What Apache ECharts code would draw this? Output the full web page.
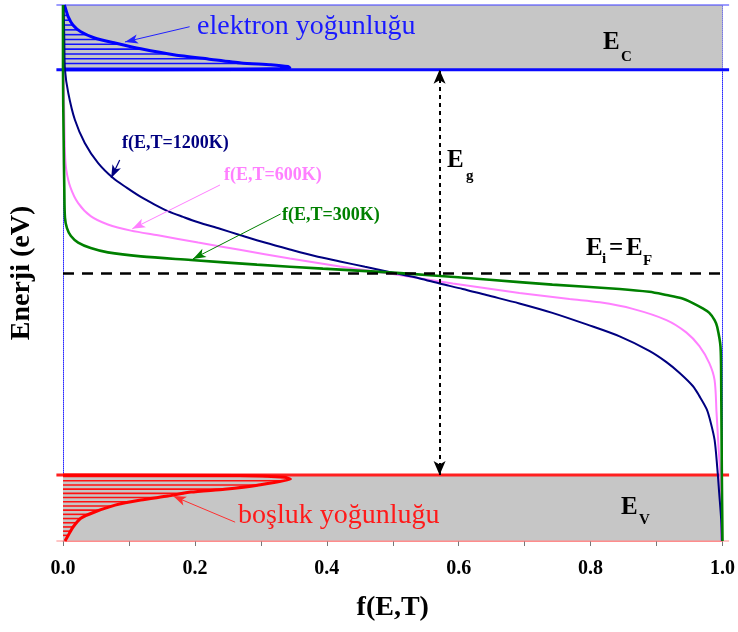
<!DOCTYPE html>
<html><head><meta charset="utf-8">
<script src="https://cdn.jsdelivr.net/npm/echarts@6/dist/echarts.min.js"></script>
<style>html,body{margin:0;padding:0;background:#fff}#c{width:738px;height:632px}</style>
</head><body><div id="c"></div>
<script>
// ---- data: [f(E,T), Energy (eV)] ----
const xTickValues = [0.0, 0.2, 0.4, 0.6, 0.8, 1.0];
const energyMin = -0.74, energyMax = 0.74;
const Ec = 0.561, Ev = -0.558, EF = 0.0, EgX = 0.571;

const fermi1200 = [[0.001,0.740],[0.002,0.644],[0.003,0.561],[0.008,0.497],[0.018,0.423],[0.033,0.359],[0.053,0.304],[0.076,0.262],[0.097,0.235],[0.118,0.210],[0.139,0.189],[0.159,0.171],[0.182,0.155],[0.205,0.140],[0.238,0.122],[0.268,0.105],[0.306,0.084],[0.344,0.065],[0.382,0.047],[0.420,0.032],[0.458,0.017],[0.500,0.001],[0.541,-0.015],[0.571,-0.029],[0.606,-0.044],[0.642,-0.061],[0.692,-0.084],[0.742,-0.110],[0.794,-0.142],[0.844,-0.175],[0.889,-0.215],[0.915,-0.246],[0.935,-0.276],[0.955,-0.312],[0.965,-0.340],[0.976,-0.376],[0.982,-0.412],[0.988,-0.461],[0.992,-0.536],[0.995,-0.608],[0.998,-0.682],[0.999,-0.740]];
const fermi600 = [[0.000,0.740],[0.001,0.561],[0.002,0.423],[0.003,0.331],[0.005,0.285],[0.011,0.238],[0.023,0.193],[0.042,0.157],[0.068,0.134],[0.103,0.117],[0.144,0.104],[0.205,0.084],[0.268,0.064],[0.344,0.040],[0.420,0.018],[0.500,-0.003],[0.591,-0.029],[0.692,-0.055],[0.768,-0.072],[0.814,-0.081],[0.864,-0.099],[0.915,-0.130],[0.945,-0.164],[0.965,-0.202],[0.980,-0.249],[0.988,-0.296],[0.991,-0.387],[0.994,-0.481],[0.997,-0.572],[0.998,-0.740]];
const fermi300 = [[0.000,0.740],[0.000,0.561],[0.001,0.367],[0.002,0.229],[0.003,0.152],[0.006,0.124],[0.012,0.102],[0.023,0.084],[0.042,0.069],[0.068,0.057],[0.118,0.046],[0.194,0.036],[0.294,0.023],[0.394,0.012],[0.500,0.001],[0.556,-0.006],[0.642,-0.018],[0.742,-0.032],[0.844,-0.044],[0.889,-0.052],[0.915,-0.061],[0.938,-0.070],[0.955,-0.083],[0.970,-0.098],[0.980,-0.110],[0.988,-0.130],[0.992,-0.149],[0.997,-0.204],[0.998,-0.296],[0.999,-0.558],[1.000,-0.740]];
const electronDensity = [[0.002,0.740],[0.003,0.735],[0.008,0.707],[0.015,0.685],[0.027,0.666],[0.048,0.649],[0.079,0.635],[0.118,0.619],[0.170,0.602],[0.220,0.591],[0.270,0.580],[0.315,0.575],[0.341,0.570],[0.344,0.566],[0.329,0.564],[0.268,0.562],[0.000,0.561]];
const holeDensity = [[0.000,-0.558],[0.268,-0.559],[0.336,-0.564],[0.345,-0.569],[0.295,-0.586],[0.245,-0.597],[0.194,-0.605],[0.159,-0.616],[0.118,-0.627],[0.079,-0.641],[0.048,-0.660],[0.027,-0.677],[0.015,-0.702],[0.008,-0.724],[0.003,-0.740]];

// annotation arrows [from, to] in data coords
const arrow1200 = [[0.086,0.312],[0.073,0.262]];
const arrow600 = [[0.238,0.243],[0.105,0.122]];
const arrow300 = [[0.330,0.163],[0.197,0.039]];
const arrowElectron = [[0.192,0.680],[0.094,0.638]];
const arrowHole = [[0.261,-0.688],[0.167,-0.616]];

// ---- helpers ----
function xAt(curve, E){
  let best = null;
  for (let i=0;i<curve.length-1;i++){
    const a=curve[i], b=curve[i+1];
    if ((a[1]-E)*(b[1]-E) <= 0 && a[1]!==b[1]){
      const t=(E-a[1])/(b[1]-a[1]);
      const x=a[0]+t*(b[0]-a[0]);
      if (best===null || x>best) best=x;
    }
  }
  return best;
}
function hatch(curve, start, end, step){
  const out=[];
  const dir = end>start?1:-1;
  for (let E=start; dir>0?E<=end:E>=end; E+=dir*step){
    const x=xAt(curve,E);
    if (x!==null && x>0.002) out.push([x,E]);
  }
  return out;
}
const electronHatch = hatch(electronDensity, Ec+0.004, 0.73, 0.0133);
const holeHatch = hatch(holeDensity, Ev-0.004, -0.73, 0.0116);

const FF = 'Liberation Serif';
function arrowLine(pair){ return [{coord:pair[0]},{coord:pair[1]}]; }

const chart = echarts.init(document.getElementById('c'));
const hatchRender = (color)=> (params, api)=>{
  const p0 = api.coord([0, api.value(1)]);
  const p1 = api.coord([api.value(0), api.value(1)]);
  return {type:'line', shape:{x1:p0[0],y1:p0[1],x2:p1[0],y2:p1[1]}, style:{stroke:color, lineWidth:1.6}};
};
const txt = (x,y,text,font,fill)=>({type:'text', z:10, silent:true, style:{x, y, text, font, fill, align:'left', verticalAlign:'middle'}});

const option = {
  animation:false,
  backgroundColor:'#fff',
  grid:{left:63, right:15, top:5, bottom:91, containLabel:false},
  xAxis:{type:'value', min:0, max:1, interval:0.2,
    axisLine:{show:true, onZero:false, lineStyle:{color:'#ff8c8c', width:1}},
    axisTick:{show:true, length:5, lineStyle:{color:'#777'}},
    minorTick:{show:true, splitNumber:2, length:5, lineStyle:{color:'#777'}},
    splitLine:{show:false},
    axisLabel:{margin:18, formatter:v=>v.toFixed(1), fontFamily:FF, fontWeight:'bold', fontSize:20, color:'#000'},
    name:'f(E,T)', nameLocation:'middle', nameGap:53,
    nameTextStyle:{fontFamily:FF, fontWeight:'bold', fontSize:28, color:'#000'}
  },
  yAxis:[
    {type:'value', min:energyMin, max:energyMax, position:'left',
     axisLine:{show:true, onZero:false, lineStyle:{color:'#2a2aff', type:'dotted', width:1}},
     axisTick:{show:false}, axisLabel:{show:false}, splitLine:{show:false},
     name:'Enerji (eV)', nameLocation:'middle', nameRotate:90, nameGap:27,
     nameTextStyle:{fontFamily:FF, fontWeight:'bold', fontSize:28, color:'#000', padding:[0,0,0,0]}},
    {type:'value', min:energyMin, max:energyMax, position:'right',
     axisLine:{show:true, onZero:false, lineStyle:{color:'#2a2aff', type:'dotted', width:1}},
     axisTick:{show:false}, axisLabel:{show:false}, splitLine:{show:false}}
  ],
  series:[
    {type:'custom', z:1, silent:true,
     data:[[0,Ec,1,energyMax,0],[0,energyMin,1,Ev,1]],
     encode:{x:[0,2], y:[1,3]},
     renderItem:(params, api)=>{
       const p0=api.coord([api.value(0),api.value(3)]);
       const p1=api.coord([api.value(2),api.value(1)]);
       const isCond = api.value(4)===0;
       const l0=api.coord([-0.01, api.value(3)]), r0=api.coord([1.01, api.value(3)]);
       const l1=api.coord([-0.01, api.value(1)]), r1=api.coord([1.01, api.value(1)]);
       return {type:'group', children:[
         {type:'rect', shape:{x:p0[0],y:p0[1],width:p1[0]-p0[0],height:p1[1]-p0[1]}, style:{fill:'#c6c6c6'}},
         {type:'line', shape:{x1:l0[0],y1:l0[1],x2:r0[0],y2:r0[1]}, style:{stroke:isCond?'#3b3bff':'#ff2020', lineWidth:isCond?1.2:3}},
         {type:'line', shape:{x1:l1[0],y1:l1[1],x2:r1[0],y2:r1[1]}, style:{stroke:isCond?'#0a0aff':'#ff8c8c', lineWidth:isCond?3:1}}
       ]};
     }},
    {type:'custom', z:2, silent:true, data:electronHatch, encode:{x:0,y:1}, renderItem:hatchRender('#1010ff')},
    {type:'custom', z:2, silent:true, data:holeHatch, encode:{x:0,y:1}, renderItem:hatchRender('#ff1010')},
    {type:'line', z:3, data:electronDensity, showSymbol:false, smooth:0.2, lineStyle:{color:'#0000ff', width:3}, itemStyle:{color:'#0000ff'},
     markLine:{silent:true, symbol:['none','arrow'], symbolSize:[7,13], label:{show:false}, lineStyle:{color:'#2020ff', width:1, type:'solid'}, data:[arrowLine(arrowElectron)]}},
    {type:'line', z:3, data:holeDensity, showSymbol:false, smooth:0.2, lineStyle:{color:'#ff0000', width:3}, itemStyle:{color:'#ff0000'},
     markLine:{silent:true, symbol:['none','arrow'], symbolSize:[7,13], label:{show:false}, lineStyle:{color:'#ff3030', width:1, type:'solid'}, data:[arrowLine(arrowHole)]}},
    {type:'line', z:4, data:fermi600, showSymbol:false, smooth:0.3, lineStyle:{color:'#ff80ff', width:2}, itemStyle:{color:'#ff80ff'},
     markLine:{silent:true, symbol:['none','arrow'], symbolSize:[7,13], label:{show:false}, lineStyle:{color:'#ff80ff', width:1, type:'solid'}, data:[arrowLine(arrow600)]}},
    {type:'line', z:4, data:fermi1200, showSymbol:false, smooth:0.3, lineStyle:{color:'#000080', width:2}, itemStyle:{color:'#000080'},
     markLine:{silent:true, symbol:['none','arrow'], symbolSize:[7,13], label:{show:false}, lineStyle:{color:'#000080', width:1.2, type:'solid'}, data:[arrowLine(arrow1200)]}},
    {type:'line', z:4, data:fermi300, showSymbol:false, smooth:0.3, lineStyle:{color:'#008000', width:2.6}, itemStyle:{color:'#008000'},
     markLine:{silent:true, symbol:['none','arrow'], symbolSize:[7,13], label:{show:false}, lineStyle:{color:'#008000', width:1, type:'solid'}, data:[arrowLine(arrow300)]}},
    {type:'line', z:5, data:[], markLine:{silent:true, symbol:['none','none'], label:{show:false},
      lineStyle:{color:'#000', width:2.5, type:[11,8]},
      data:[[{coord:[0,EF]},{coord:[1,EF]}]]}},
    {type:'line', z:5, data:[], markLine:{silent:true, symbol:['arrow','arrow'], symbolSize:[9,14], label:{show:false},
      lineStyle:{color:'#000', width:2, type:[4,4]},
      data:[[{coord:[EgX,Ev]},{coord:[EgX,Ec]}]]}}
  ],
  graphic:[
    txt(197, 27, 'elektron yoğunluğu', '28px "Liberation Serif"', '#1a1aff'),
    txt(238, 516, 'boşluk yoğunluğu', '28px "Liberation Serif"', '#ff1a1a'),
    txt(122, 143, 'f(E,T=1200K)', 'bold 18px "Liberation Serif"', '#000080'),
    txt(224, 175, 'f(E,T=600K)', 'bold 18px "Liberation Serif"', '#ff80ff'),
    txt(282, 215, 'f(E,T=300K)', 'bold 18px "Liberation Serif"', '#008000'),
    txt(603, 43, 'E', 'bold 25px "Liberation Serif"', '#000'),
    txt(621, 57, 'C', 'bold 15px "Liberation Serif"', '#000'),
    txt(447, 161, 'E', 'bold 25px "Liberation Serif"', '#000'),
    txt(466, 176, 'g', 'bold 15px "Liberation Serif"', '#000'),
    txt(586, 249, 'E', 'bold 25px "Liberation Serif"', '#000'),
    txt(602, 259, 'i', 'bold 15px "Liberation Serif"', '#000'),
    txt(609, 249, '=', 'bold 25px "Liberation Serif"', '#000'),
    txt(626, 249, 'E', 'bold 25px "Liberation Serif"', '#000'),
    txt(643, 261, 'F', 'bold 15px "Liberation Serif"', '#000'),
    txt(621, 508, 'E', 'bold 25px "Liberation Serif"', '#000'),
    txt(639, 520, 'V', 'bold 15px "Liberation Serif"', '#000')
  ]
};
chart.setOption(option);
</script>
</body></html>
